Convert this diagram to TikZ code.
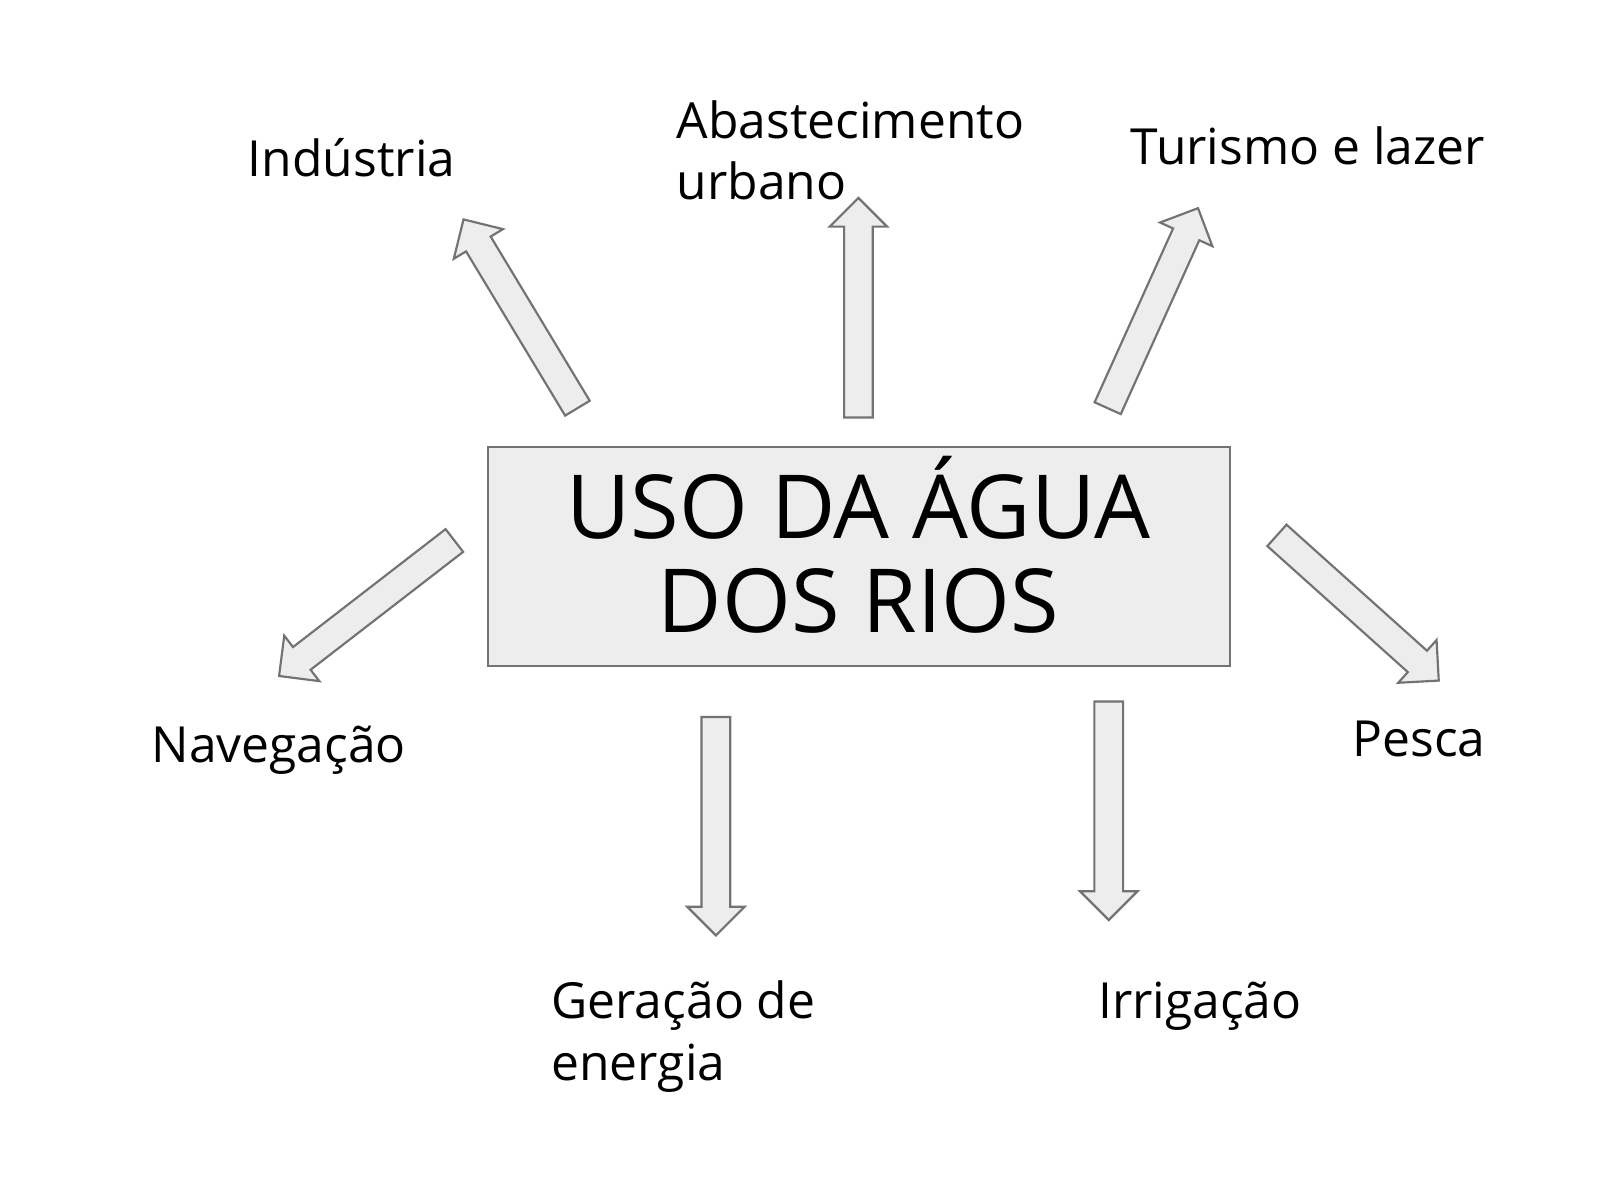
\documentclass[tikz,border=0pt]{standalone}
\usepackage{fontspec}
\setmainfont{Open Sans}
\begin{document}
\begin{tikzpicture}[x=0.01cm,y=-0.01cm,
  lbl/.style={anchor=base west,inner sep=0pt,font=\fontsize{13.8}{16}\selectfont},
  ttl/.style={anchor=base,inner sep=0pt,font=\fontsize{24.5}{28}\selectfont},
  barrow/.style={draw=black!55,fill=black!7,line width=0.6pt,line join=miter}]
\useasboundingbox (0,0) rectangle (1560,1170);
\node[draw=black!55,fill=black!7,line width=0.6pt,minimum width=7.23cm,minimum height=2.13cm,inner sep=0] (box) at (837.5,542.5) {};
\node[ttl] (t1) at (837,525) {USO DA ÁGUA};
\node[ttl] (t2) at (837,617) {DOS RIOS};
\newcommand\barr[3]{\begin{scope}[shift={(#1)},rotate=#2,y=0.01cm]
\draw[barrow] (0,-14)--(#3-28,-14)--(#3-28,-28)--(#3,0)--(#3-28,28)--(#3-28,14)--(0,14)--cycle;
\end{scope}}
\coordinate (a1) at (563,398); \barr{a1}{121.1}{215}
\coordinate (a2) at (837,407); \barr{a2}{90}{214}
\coordinate (a3) at (1080,398); \barr{a3}{65.7}{214}
\coordinate (a4) at (443,527); \barr{a4}{217.7}{216}
\coordinate (a5) at (698,699); \barr{a5}{270}{213}
\coordinate (a6) at (1081,684); \barr{a6}{270}{213}
\coordinate (a7) at (1245,522); \barr{a7}{-41.9}{212}
\node[lbl] (l1) at (241,172) {Indústria};
\node[lbl] (l2a) at (659,135) {Abastecimento};
\node[lbl] (l2b) at (659,195) {urbano};
\node[lbl] (l3) at (1102,160) {Turismo e lazer};
\node[lbl] (l4) at (147,743) {Navegação};
\node[lbl] (l5a) at (537,993) {Geração de};
\node[lbl] (l5b) at (537,1053) {energia};
\node[lbl] (l6) at (1070,993) {Irrigação};
\node[lbl] (l7) at (1318,738) {Pesca};
\end{tikzpicture}
\end{document}
